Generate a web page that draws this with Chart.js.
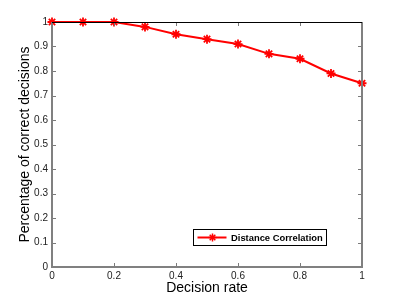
<!DOCTYPE html>
<html>
<head>
<meta charset="utf-8">
<script src="https://cdn.jsdelivr.net/npm/chart.js@4/dist/chart.umd.min.js"></script>
<style>
  html, body { margin: 0; padding: 0; background: #fff; }
  #wrap { width: 399px; height: 300px; }
</style>
</head>
<body>
<div id="wrap"><canvas id="c" width="399" height="300"></canvas></div>
<script>
// data
const decisionRate = [0, 0.1, 0.2, 0.3, 0.4, 0.5, 0.6, 0.7, 0.8, 0.9, 1];
const correctPct = [1, 1, 1, 0.98, 0.95, 0.93, 0.91, 0.87, 0.85, 0.79, 0.75];
const seriesName = 'Distance Correlation';
const xTicks = [0, 0.2, 0.4, 0.6, 0.8, 1];
const yTicks = [0, 0.1, 0.2, 0.3, 0.4, 0.5, 0.6, 0.7, 0.8, 0.9, 1];

const FONT = "'Liberation Sans', Arial, Helvetica, sans-serif";

// box round the axes and inward ticks, matlab style
const boxPlugin = {
    id: 'box',
    afterDraw(chart) {
        const { ctx, chartArea: a, scales } = chart;
        const tl = 4;
        ctx.save();
        ctx.strokeStyle = '#7a7a7a';
        ctx.lineWidth = 1;
        xTicks.forEach(v => {
            const x = Math.round(scales.x.getPixelForValue(v)) + 0.5;
            ctx.beginPath();
            ctx.moveTo(x, a.bottom); ctx.lineTo(x, a.bottom - tl);
            ctx.moveTo(x, a.top); ctx.lineTo(x, a.top + tl);
            ctx.stroke();
        });
        yTicks.forEach(v => {
            const y = Math.round(scales.y.getPixelForValue(v)) + 0.5;
            ctx.beginPath();
            ctx.moveTo(a.left, y); ctx.lineTo(a.left + tl, y);
            ctx.moveTo(a.right, y); ctx.lineTo(a.right - tl, y);
            ctx.stroke();
        });
        // frame
        ctx.strokeStyle = '#808080';
        ctx.lineWidth = 2;
        ctx.beginPath();
        ctx.moveTo(a.left, a.top); ctx.lineTo(a.left, a.bottom);
        ctx.lineTo(a.right, a.bottom); ctx.lineTo(a.right, a.top);
        ctx.stroke();
        ctx.strokeStyle = '#000';
        ctx.lineWidth = 1;
        ctx.beginPath();
        ctx.moveTo(a.left, Math.round(a.top) + 0.5);
        ctx.lineTo(a.right, Math.round(a.top) + 0.5);
        ctx.stroke();

        // legend box, lower right
        const ds = chart.data.datasets[0];
        const bx = 193.5, by = 229.5, bw = 133, bh = 16;
        ctx.fillStyle = '#fff';
        ctx.fillRect(bx, by, bw, bh);
        ctx.strokeStyle = '#000';
        ctx.lineWidth = 1;
        ctx.strokeRect(bx, by, bw, bh);
        const ly = by + bh / 2;
        ctx.strokeStyle = ds.borderColor;
        ctx.lineWidth = 2;
        ctx.beginPath();
        ctx.moveTo(bx + 4, ly); ctx.lineTo(bx + 33, ly);
        ctx.stroke();
        // asterisk marker
        const mx = bx + 19, r = 4;
        ctx.lineWidth = 1.5;
        ctx.beginPath();
        for (let k = 0; k < 4; k++) {
            const ang = k * Math.PI / 4;
            ctx.moveTo(mx - r * Math.cos(ang), ly - r * Math.sin(ang));
            ctx.lineTo(mx + r * Math.cos(ang), ly + r * Math.sin(ang));
        }
        ctx.stroke();
        ctx.fillStyle = '#000';
        ctx.font = 'bold 9.4px ' + FONT;
        ctx.textBaseline = 'middle';
        ctx.textAlign = 'left';
        ctx.fillText(ds.label, bx + 37.5, ly + 0.5);
        ctx.restore();
    }
};

new Chart(document.getElementById('c'), {
    type: 'line',
    data: {
        datasets: [{
            label: seriesName,
            data: decisionRate.map((x, i) => ({ x: x, y: correctPct[i] })),
            borderColor: '#ff0000',
            backgroundColor: '#ff0000',
            borderWidth: 2,
            pointStyle: 'star',
            pointRadius: 4.5,
            pointBorderWidth: 1.8,
            pointBorderColor: '#ff0000',
            tension: 0,
            clip: false
        }]
    },
    options: {
        responsive: false,
        animation: false,
        layout: { padding: { left: 0, top: 22, right: 37, bottom: 0 } },
        plugins: {
            legend: { display: false },
            tooltip: { enabled: false }
        },
        scales: {
            x: {
                type: 'linear',
                min: 0, max: 1,
                afterBuildTicks: s => { s.ticks = xTicks.map(v => ({ value: v })); },
                afterFit: s => { s.height = 33; },
                grid: { display: false, drawTicks: false },
                border: { display: false },
                ticks: {
                    padding: 3,
                    color: '#222',
                    font: { family: FONT, size: 10 },
                    maxRotation: 0,
                    callback: v => String(v)
                },
                title: {
                    display: true,
                    text: 'Decision rate',
                    color: '#000',
                    font: { family: FONT, size: 14 },
                    padding: { top: 0, bottom: 3 }
                }
            },
            y: {
                type: 'linear',
                min: 0, max: 1,
                afterBuildTicks: s => { s.ticks = yTicks.map(v => ({ value: v })); },
                afterFit: s => { s.width = 52; },
                grid: { display: false, drawTicks: false },
                border: { display: false },
                ticks: {
                    padding: 4,
                    color: '#222',
                    font: { family: FONT, size: 10 },
                    callback: v => String(v)
                },
                title: {
                    display: true,
                    text: 'Percentage of correct decisions',
                    color: '#000',
                    font: { family: FONT, size: 14 },
                    padding: { top: 17, bottom: 0 }
                }
            }
        }
    },
    plugins: [boxPlugin]
});
</script>
</body>
</html>
